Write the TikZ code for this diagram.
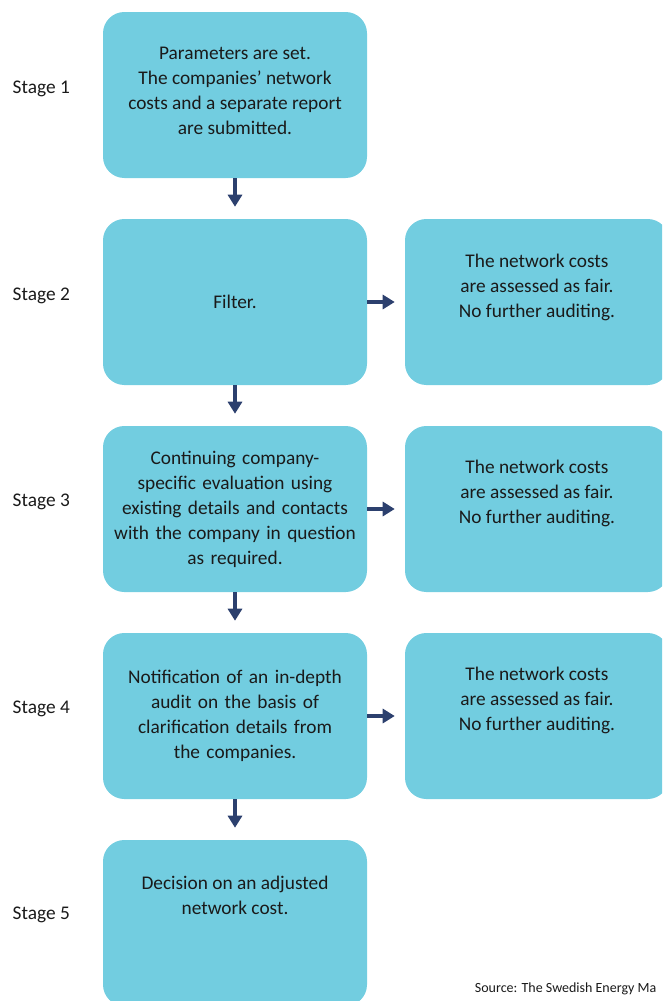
\documentclass[tikz,border=0pt]{standalone}
\usepackage{fontspec}
\setmainfont{Carlito}
\usetikzlibrary{arrows.meta}
\definecolor{boxblue}{RGB}{114,205,224}
\definecolor{arrownavy}{RGB}{44,64,110}
\definecolor{textgrey}{RGB}{26,26,26}

\begin{document}
\begin{tikzpicture}[x=0.75pt,y=-0.75pt]
        % Define styles
        \tikzset{
            stepbox/.style={rectangle, rounded corners=16pt, fill=boxblue, minimum width=198pt, minimum height=124.5pt, align=center, text width=196pt, inner xsep=1pt, text=textgrey, font=\fontsize{14.5}{18.75}\selectfont},
            boxtext/.style={align=center, text=textgrey, font=\fontsize{14.5}{18.75}\selectfont},
            stagelabel/.style={anchor=west, text=textgrey, font=\fontsize{14.5}{18.75}\selectfont},
            arrow/.style={-{Triangle[width=10.5pt,length=9pt]}, line width=3pt, draw=arrownavy}
        }
        \clip (0,0) rectangle (662,1001);

        % Stages
        \node[stagelabel] (stage1) at (8,89) {Stage 1};
        \node[stagelabel] (stage2) at (8,296) {Stage 2};
        \node[stagelabel] (stage3) at (8,502) {Stage 3};
        \node[stagelabel] (stage4) at (8,709) {Stage 4};
        \node[stagelabel] (stage5) at (8,915) {Stage 5};

        % Left column
        \node[stepbox] (box1) at (235,95) {};
        \node[boxtext] (box1text) at (235,91) {Parameters are set.\\The companies’ network\\costs and a separate report\\are submitted.};
        \node[stepbox] (box2) at (235,302) {Filter.};
        \node[stepbox] (box3) at (235,509) {Continuing company-\\specific evaluation using\\existing details and contacts\\with the company in question\\as required.};
        \node[stepbox] (box4) at (235,716) {Notification of an in-depth\\audit on the basis of\\clarification details from\\the companies.};
        \node[stepbox] (box5) at (235,923) {};
        \node[boxtext] (box5text) at (235,895) {Decision on an adjusted\\network cost.};

        % Right column
        \node[stepbox] (fair2) at (537,302) {};
        \node[boxtext] (fair2text) at (537,287) {The network costs\\are assessed as fair.\\No further auditing.};
        \node[stepbox] (fair3) at (537,509) {};
        \node[boxtext] (fair3text) at (537,493) {The network costs\\are assessed as fair.\\No further auditing.};
        \node[stepbox] (fair4) at (537,716) {};
        \node[boxtext] (fair4text) at (537,700) {The network costs\\are assessed as fair.\\No further auditing.};

        % Arrows
        \draw[arrow, shorten >=9pt] (box1) -- (box2);
        \draw[arrow, shorten >=9pt] (box2) -- (box3);
        \draw[arrow, shorten >=9pt] (box3) -- (box4);
        \draw[arrow, shorten >=9pt] (box4) -- (box5);
        \draw[arrow, shorten >=7.5pt] (box2) -- (fair2);
        \draw[arrow, shorten >=7.5pt] (box3) -- (fair3);
        \draw[arrow, shorten >=7.5pt] (box4) -- (fair4);

        % Source
        \node[anchor=east, text=textgrey, font=\fontsize{10.5}{12}\selectfont] (source) at (661,989) {Source: The Swedish Energy Ma};
\end{tikzpicture}
\end{document}
